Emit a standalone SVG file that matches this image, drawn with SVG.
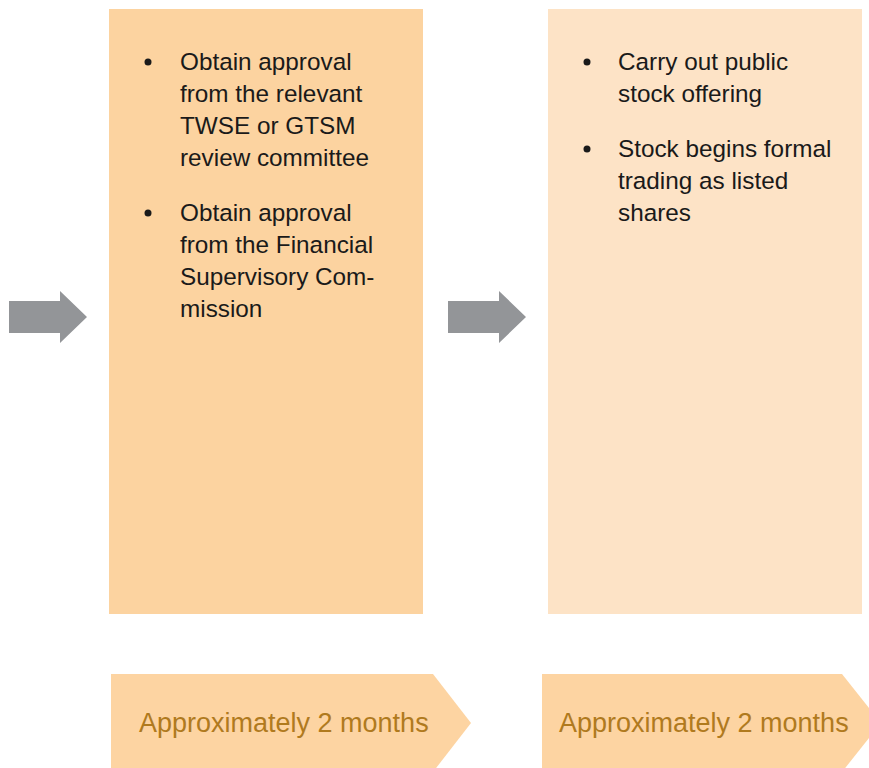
<svg xmlns="http://www.w3.org/2000/svg" width="869" height="768" viewBox="0 0 869 768">
<style>
.t{font-family:"Liberation Sans",Arial,sans-serif;font-size:24.3px;fill:#1a1a1a}
.b{font-family:"Liberation Sans",Arial,sans-serif;font-size:27px;fill:#b07a1e}
.arr{fill:#939598}
</style>
<rect width="869" height="768" fill="#ffffff"/>
<g id="connectors">
<polygon class="arr" points="9,301 60,301 60,291 87,317 60,343 60,333 9,333"/>
<polygon class="arr" points="448,301 499,301 499,291 526,317 499,343 499,333 448,333"/>
</g>
<g id="box1">
<rect x="109" y="9" width="314" height="605" fill="#fcd3a0"/>
<circle cx="148" cy="62" r="3.5" fill="#1a1a1a"/>
<text class="t" x="180" y="70">Obtain approval</text>
<text class="t" x="180" y="102">from the relevant</text>
<text class="t" x="180" y="134">TWSE or GTSM</text>
<text class="t" x="180" y="166">review committee</text>
<circle cx="148" cy="213" r="3.5" fill="#1a1a1a"/>
<text class="t" x="180" y="221">Obtain approval</text>
<text class="t" x="180" y="253">from the Financial</text>
<text class="t" x="180" y="285">Supervisory Com-</text>
<text class="t" x="180" y="317">mission</text>
</g>
<g id="box2">
<rect x="548" y="9" width="314" height="605" fill="#fde3c6"/>
<circle cx="587" cy="62" r="3.5" fill="#1a1a1a"/>
<text class="t" x="618" y="70">Carry out public</text>
<text class="t" x="618" y="102">stock offering</text>
<circle cx="587" cy="149" r="3.5" fill="#1a1a1a"/>
<text class="t" x="618" y="157">Stock begins formal</text>
<text class="t" x="618" y="189">trading as listed</text>
<text class="t" x="618" y="221">shares</text>
</g>
<g id="time1">
<polygon points="111,674 433,674 471,723 433,772 111,772" fill="#fdd4a2"/>
<text class="b" x="139" y="732">Approximately 2 months</text>
</g>
<g id="time2">
<polygon points="542,674 842,674 881,723 842,772 542,772" fill="#fdd4a2"/>
<text class="b" x="559" y="732">Approximately 2 months</text>
</g>
</svg>
